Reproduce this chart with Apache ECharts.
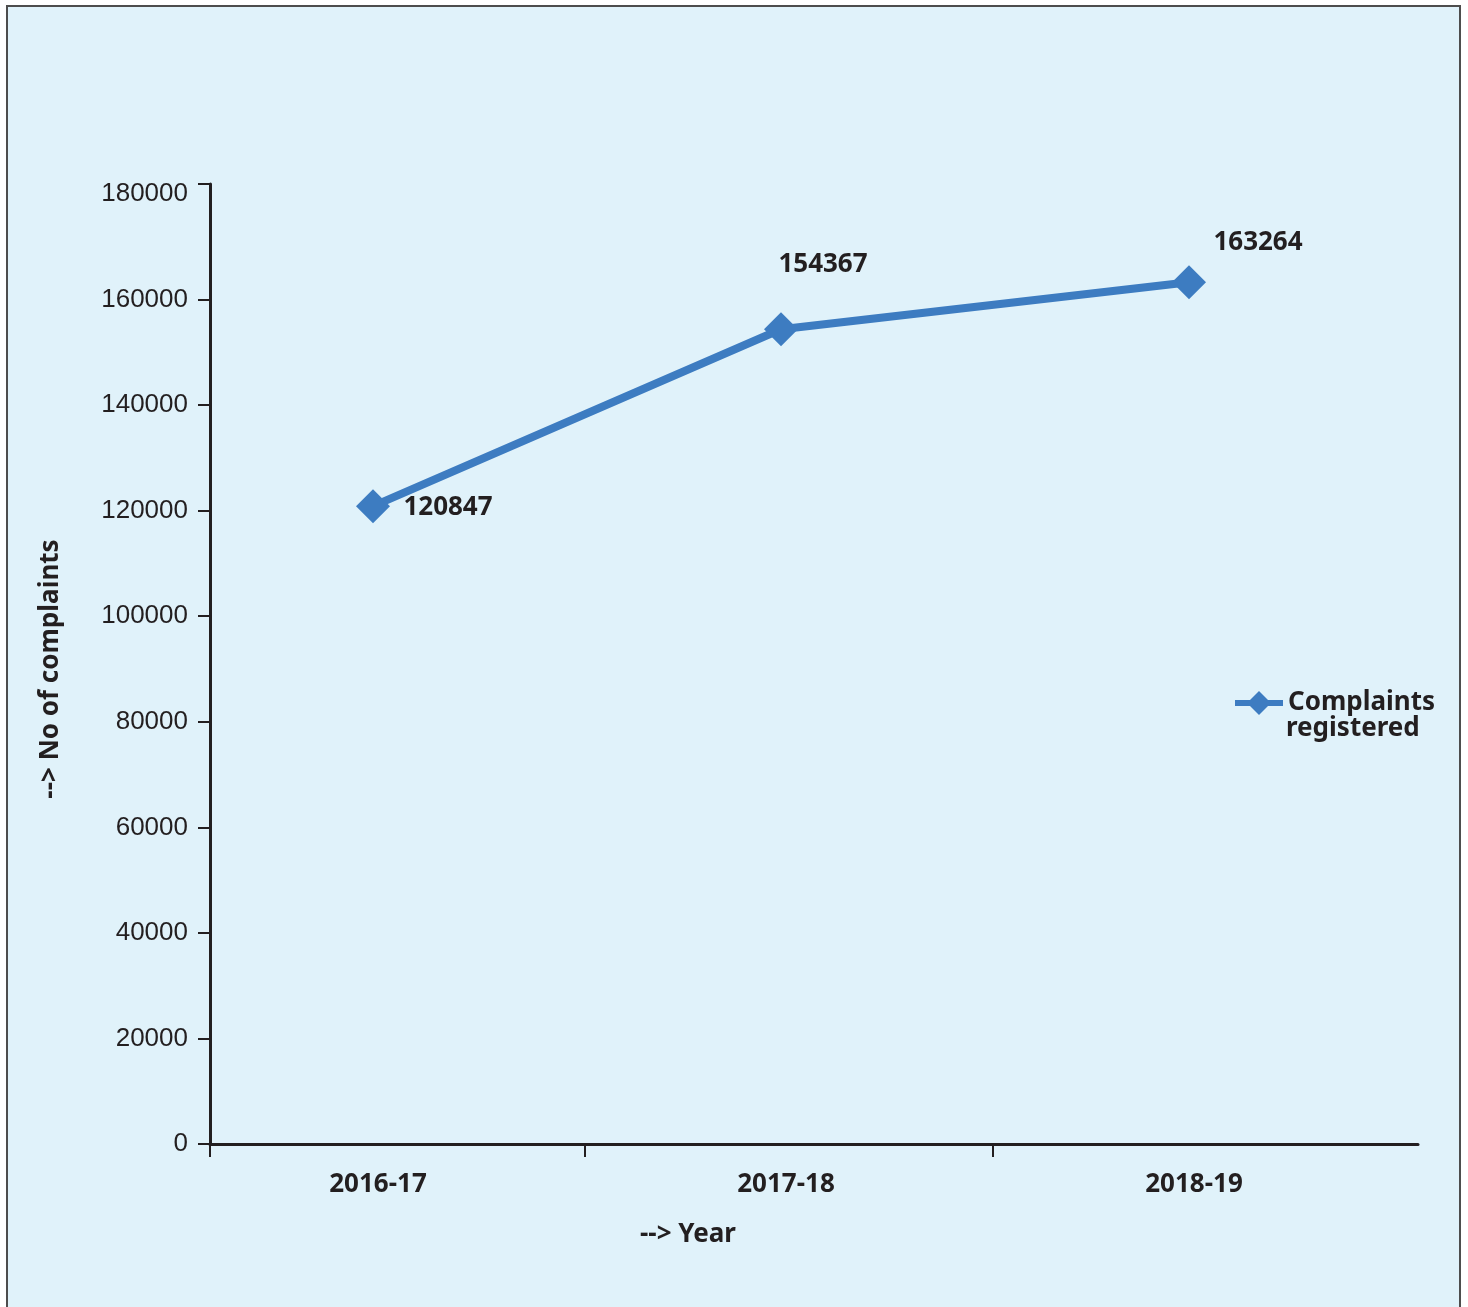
<!DOCTYPE html>
<html>
<head>
<meta charset="utf-8">
<script src="https://cdn.jsdelivr.net/npm/echarts@6/dist/echarts.min.js"></script>
<style>
  html, body { margin: 0; padding: 0; background: #ffffff; }
  #frame {
    position: absolute; left: 6px; top: 5px; width: 1451px; height: 1320px;
    border: 2px solid #4d4d4d; background: #e0f2fa;
  }
  #chart { position: absolute; left: 0; top: 0; width: 1468px; height: 1307px; }
</style>
</head>
<body>
<div id="frame"></div>
<div id="chart"></div>
<script>
// data
const years = ['2016-17', '2017-18', '2018-19']
const complaints = [120847, 154367, 163264]
const seriesName = 'Complaints registered'
const yTicks = [0, 20000, 40000, 60000, 80000, 100000, 120000, 140000, 160000, 180000]

// label placement for each point (px offsets from the marker)
const labelOffsets = [[75, 1], [42, -65], [69, -40]]

const textColor = '#231f20'
const lineColor = '#3d7cc1'
const boldFont = 'Noto Sans'
const boldText = { fontFamily: boldFont, fontWeight: 'bold', fontSize: 26, color: textColor }

const chart = echarts.init(document.getElementById('chart'))

const option = {
  backgroundColor: 'transparent',
  animation: false,
  title: [
    { text: '--> Year', left: 635, top: 1217, textStyle: boldText },
    // second line of the legend text
    { text: 'registered', left: 1281, top: 711, textStyle: boldText }
  ],
  legend: {
    orient: 'vertical',
    left: 1227,
    top: 685,
    itemWidth: 48,
    itemHeight: 30,
    itemGap: 0,
    data: [seriesName],
    formatter: () => 'Complaints',
    lineStyle: { width: 6, color: lineColor },
    itemStyle: { color: lineColor },
    textStyle: boldText
  },
  grid: [
    // data grid
    { left: 169, right: 1468 - 1393, top: 194, bottom: 1307 - 1144 },
    // axis line grid
    { left: 210, right: 1468 - 1418, top: 184, bottom: 1307 - 1144 }
  ],
  xAxis: [
    {
      type: 'category',
      gridIndex: 0,
      data: years,
      boundaryGap: true,
      axisLine: { show: false },
      axisTick: { show: false },
      axisLabel: { margin: 28, padding: [0, 0, 0, 10], ...boldText }
    },
    {
      type: 'value',
      gridIndex: 1,
      min: 0,
      max: 1208,
      splitLine: { show: false },
      axisLabel: { show: false },
      axisLine: { show: true, onZero: false, lineStyle: { color: '#231f20', width: 3 } },
      axisTick: {
        show: true,
        length: 13,
        customValues: [0, 375, 783],
        lineStyle: { color: '#231f20', width: 2 }
      }
    }
  ],
  yAxis: [
    {
      type: 'value',
      gridIndex: 0,
      min: 0,
      max: 180000,
      interval: 20000,
      offset: -41,
      splitLine: { show: false },
      axisLine: { show: false },
      axisTick: {
        show: true,
        length: 12,
        customValues: yTicks.slice(0, -1),
        lineStyle: { color: '#231f20', width: 2 }
      },
      axisLabel: {
        margin: 22,
        fontFamily: 'Liberation Sans', fontSize: 26, color: textColor,
        customValues: yTicks,
        formatter: v => String(v)
      },
      name: '--> No of complaints',
      nameLocation: 'middle',
      nameGap: 146,
      nameTextStyle: boldText
    },
    {
      // axis line running to the top of the plot
      type: 'value',
      gridIndex: 1,
      min: 0,
      max: 960,
      splitLine: { show: false },
      axisLabel: { show: false },
      axisLine: { show: true, lineStyle: { color: '#231f20', width: 3 } },
      axisTick: {
        show: true,
        length: 12,
        customValues: [960],
        lineStyle: { color: '#231f20', width: 2 }
      }
    }
  ],
  series: [
    {
      name: seriesName,
      type: 'line',
      xAxisIndex: 0,
      yAxisIndex: 0,
      symbol: 'diamond',
      symbolSize: 34,
      lineStyle: { color: lineColor, width: 8 },
      itemStyle: { color: lineColor },
      data: complaints.map((v, i) => ({
        value: v,
        label: {
          show: true,
          position: 'inside',
          offset: labelOffsets[i],
          ...boldText
        }
      }))
    }
  ]
}

chart.setOption(option)
</script>
</body>
</html>
